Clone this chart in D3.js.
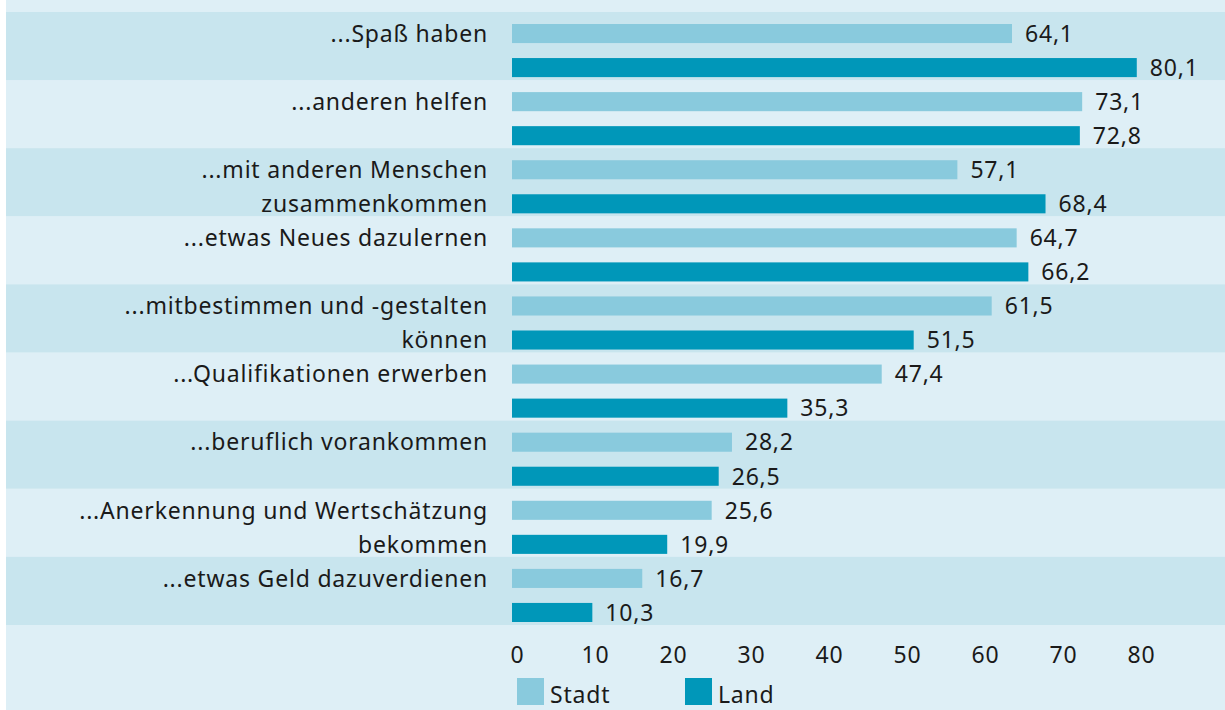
<!DOCTYPE html>
<html>
<head>
<meta charset="utf-8">
<script src="https://cdn.jsdelivr.net/npm/d3@7"></script>
<style>
  body { margin: 0; background: #fff; }
  svg text { font-family: "Noto Sans", sans-serif; fill: #1a1a1a; }
</style>
</head>
<body>
<div class="chart-container"></div>
<script>
// categories (line breaks marked with \n)
let categories = [
    "...Spaß haben",
    "...anderen helfen",
    "...mit anderen Menschen\nzusammenkommen",
    "...etwas Neues dazulernen",
    "...mitbestimmen und -gestalten\nkönnen",
    "...Qualifikationen erwerben",
    "...beruflich vorankommen",
    "...Anerkennung und Wertschätzung\nbekommen",
    "...etwas Geld dazuverdienen"
];
let stadt = [64.1, 73.1, 57.1, 64.7, 61.5, 47.4, 28.2, 25.6, 16.7];
let land  = [80.1, 72.8, 68.4, 66.2, 51.5, 35.3, 26.5, 19.9, 10.3];
let seriesNames = ["Stadt", "Land"];
let tickValues = [0, 10, 20, 30, 40, 50, 60, 70, 80];

let w = 1225;
let h = 710;
let fontSize = 23;
let colors = { Stadt: "#89cadd", Land: "#0097b9" };

let de = d3.formatLocale({ decimal: ",", thousands: ".", grouping: [3], currency: ["", " €"] });
let fmt = de.format(".1f");

let svg = d3.select(".chart-container").append("svg")
    .attr("width", w)
    .attr("height", h)
    .attr("viewBox", `0 0 ${w} ${h}`);

// background
svg.append("rect")
    .attr("x", 6).attr("y", 0)
    .attr("width", w - 6).attr("height", h)
    .attr("fill", "#deeff6");

// scales
let yScale = d3.scaleBand().domain(categories).range([12, 625]);
let ySub = d3.scaleBand().domain(seriesNames)
    .range([12, yScale.bandwidth() - 3])
    .paddingInner(0.44);
let xScale = d3.scaleLinear().domain([0, 80]).range([512, 512 + 80 * 7.8]);

// alternating bands
svg.selectAll(".band")
    .data(categories)
    .enter()
    .append("rect")
    .attr("class", "band")
    .attr("x", 6)
    .attr("y", d => yScale(d))
    .attr("width", w - 6)
    .attr("height", yScale.bandwidth())
    .attr("fill", (d, i) => i % 2 === 0 ? "#c8e5ee" : "#deeff6");

// bars
let rows = categories.map((c, i) => ({ cat: c, Stadt: stadt[i], Land: land[i] }));
let groups = svg.selectAll(".row")
    .data(rows)
    .enter()
    .append("g")
    .attr("class", "row")
    .attr("transform", d => `translate(0, ${yScale(d.cat)})`);

groups.selectAll("rect")
    .data(d => seriesNames.map(s => ({ key: s, value: d[s] })))
    .enter()
    .append("rect")
    .attr("x", xScale(0))
    .attr("y", d => ySub(d.key))
    .attr("width", d => xScale(d.value) - xScale(0))
    .attr("height", ySub.bandwidth())
    .attr("fill", d => colors[d.key]);

// value labels
groups.selectAll(".val")
    .data(d => seriesNames.map(s => ({ key: s, value: d[s] })))
    .enter()
    .append("text")
    .attr("class", "val")
    .attr("x", d => xScale(d.value) + 13)
    .attr("y", d => ySub(d.key) + ySub.bandwidth() / 2)
    .attr("dy", "0.36em")
    .style("font-size", fontSize + "px")
    .style("letter-spacing", "0.8px")
    .text(d => fmt(d.value));

// category labels: first line next to Stadt bar, second next to Land bar
groups.each(function(d) {
    let lines = d.cat.split("\n");
    d3.select(this).selectAll(".cat")
        .data(lines)
        .enter()
        .append("text")
        .attr("class", "cat")
        .attr("text-anchor", "end")
        .attr("x", 488)
        .attr("y", (l, i) => ySub(seriesNames[i]) + ySub.bandwidth() / 2)
        .attr("dy", "0.36em")
        .style("font-size", fontSize + "px")
        .style("letter-spacing", "0.8px")
        .text(l => l);
});

// x axis
let xAxis = d3.axisBottom(xScale).tickValues(tickValues).tickSize(0).tickPadding(0);
let axisG = svg.append("g")
    .attr("id", "x-axis")
    .attr("transform", "translate(5, 647)")
    .call(xAxis);
axisG.select(".domain").remove();
axisG.selectAll("text")
    .attr("fill", "#1a1a1a")
    .style("font-family", "'Noto Sans', sans-serif")
    .style("font-size", fontSize + "px")
    .style("letter-spacing", "0.8px");

// legend
let legendX = [517, 685];
let legend = svg.selectAll(".legend")
    .data(seriesNames)
    .enter()
    .append("g")
    .attr("class", "legend")
    .attr("transform", (d, i) => `translate(${legendX[i]}, 678)`);
legend.append("rect")
    .attr("width", 27).attr("height", 27)
    .attr("fill", d => colors[d]);
legend.append("text")
    .attr("x", 33)
    .attr("y", 25)
    .style("font-size", fontSize + "px")
    .style("letter-spacing", "0.8px")
    .text(d => d);
</script>
</body>
</html>
